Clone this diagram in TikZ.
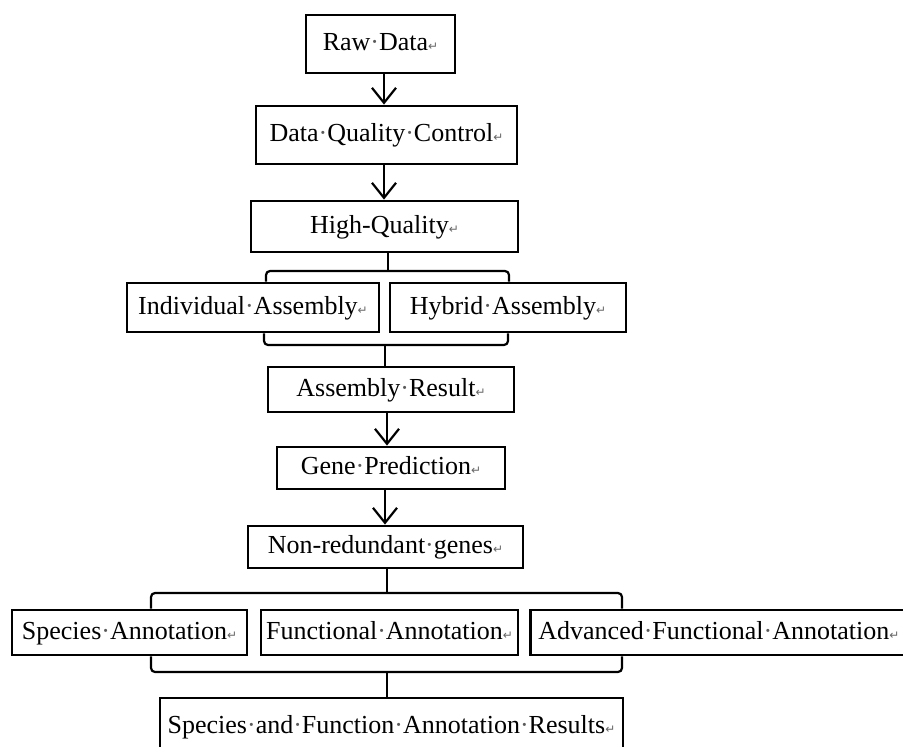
\documentclass[tikz,border=0pt]{standalone}
\usepackage{fontspec}
\setmainfont{Liberation Serif}
\newfontfamily\symfont{DejaVu Sans}
\usetikzlibrary{arrows.meta}
\newcommand{\dt}{{\color{black!65}·}}
\newcommand{\ret}{{\symfont\fontsize{12}{12}\selectfont\color{black!60}↵}}
\tikzset{
  box/.style={draw=black, line width=2.8pt, inner sep=0pt, text height=18pt, text depth=5pt,
    font=\fontsize{26}{30}\selectfont, text=black},
  conn/.style={line width=2.2pt, draw=black},
  arr/.style={conn, -{Straight Barb[length=15pt,width=24pt,line width=2.2pt]}},
  fork/.style={conn, rounded corners=4pt},
}
\begin{document}
\begin{tikzpicture}[x=1pt,y=-1pt]
\useasboundingbox (0,0) rectangle (903,747);
\fill[white] (0,0) rectangle (903,747);
\clip (0,0) rectangle (903,747);
% boxes
\node[box, minimum width=149pt, minimum height=58pt] (raw) at (380.5,44) {Raw\dt Data\ret};
\node[box, minimum width=261pt, minimum height=58pt] (dqc) at (386.5,135) {Data\dt Quality\dt Control\ret};
\node[box, minimum width=267pt, minimum height=51pt] (hq) at (384.5,226.5) {High-Quality\ret};
\node[box, minimum width=252pt, minimum height=49pt] (ind) at (253,307.5) {Individual\dt Assembly\ret};
\node[box, minimum width=236pt, minimum height=49pt] (hyb) at (508,307.5) {Hybrid\dt Assembly\ret};
\node[box, minimum width=246pt, minimum height=45pt] (ar) at (391,389.5) {Assembly\dt Result\ret};
\node[box, minimum width=228pt, minimum height=42pt] (gp) at (391,468) {Gene\dt Prediction\ret};
\node[box, minimum width=275pt, minimum height=42pt] (nr) at (385.5,547) {Non-redundant\dt genes\ret};
\node[box, minimum width=235pt, minimum height=45pt] (sp) at (129.5,632.5) {Species\dt Annotation\ret};
\node[box, minimum width=257pt, minimum height=45pt] (fa) at (389.5,632.5) {Functional\dt Annotation\ret};
\node[box, minimum width=377pt, minimum height=45pt, anchor=west] (adv) at (529,632.5) {Advanced\dt Functional\dt Annotation\ret};
\node[box, minimum width=463pt, minimum height=57pt] (res) at (391.5,726.5) {Species\dt and\dt Function\dt Annotation\dt Results\ret};
% arrows
\draw[arr] (raw.south -| 384,0) -- (dqc.north -| 384,0);
\draw[arr] (dqc.south -| 384,0) -- (hq.north -| 384,0);
\draw[arr] (ar.south -| 387,0) -- (gp.north -| 387,0);
\draw[arr] (gp.south -| 385,0) -- (nr.north -| 385,0);
% fork 1
\coordinate (f1c) at (388,271);
\coordinate (f1l) at (266,271);
\coordinate (f1r) at (509,271);
\draw[conn] (hq.south -| f1c) -- (f1c);
\draw[fork] (ind.north -| f1l) -- (f1l) -- (f1r) -- (hyb.north -| f1r);
% join 1
\coordinate (j1c) at (385,345);
\coordinate (j1l) at (264,345);
\coordinate (j1r) at (508,345);
\draw[fork] (ind.south -| j1l) -- (j1l) -- (j1r) -- (hyb.south -| j1r);
\draw[conn] (j1c) -- (ar.north -| j1c);
% fork 2
\coordinate (f2c) at (387,593);
\coordinate (f2l) at (151,593);
\coordinate (f2r) at (622,593);
\draw[conn] (nr.south -| f2c) -- (f2c);
\draw[fork] (sp.north -| f2l) -- (f2l) -- (f2r) -- (adv.north -| f2r);
% join 2
\coordinate (j2c) at (387,672);
\coordinate (j2l) at (151,672);
\coordinate (j2r) at (622,672);
\draw[fork] (sp.south -| j2l) -- (j2l) -- (j2r) -- (adv.south -| j2r);
\draw[conn] (j2c) -- (res.north -| j2c);
\end{tikzpicture}
\end{document}
